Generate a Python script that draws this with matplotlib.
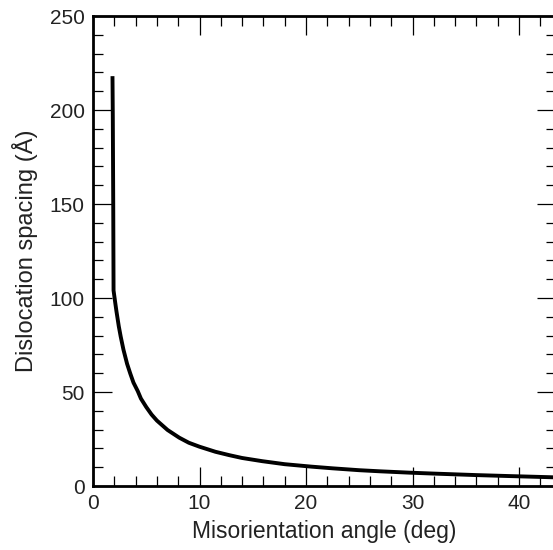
import matplotlib
matplotlib.use("Agg")
import matplotlib.pyplot as plt
from matplotlib.ticker import MultipleLocator

# values
angle_deg = [1.83, 1.86, 1.90, 1.93, 2.1, 2.2, 2.42, 2.6, 2.86, 3.2, 3.5, 3.8,
             4.2, 4.5, 5.0, 5.5, 6.0, 7.0, 8.1, 9.0, 10.0, 11.5, 12.8, 14.0,
             15.9, 18.0, 20.5, 22.5, 25.0, 27.0, 29.7, 32.0, 36.0, 39.0, 43.4]
spacing_A = [218, 196, 150, 104, 97, 93, 85, 79.5, 72.5, 65, 59.8, 55,
             50.5, 46.5, 42, 38, 34.8, 29.8, 25.7, 23, 20.9, 18.2, 16.4, 14.9,
             13.2, 11.6, 10.3, 9.4, 8.4, 7.8, 7.1, 6.6, 5.8, 5.3, 4.6]

x_major, x_minor = 10, 2
y_major, y_minor = 50, 10

plt.rcParams.update({
    "font.family": ["Liberation Sans", "DejaVu Sans"],
    "font.size": 16.5,
})

W, H = 553, 550
fig = plt.figure(figsize=(W / 100, H / 100), dpi=100)
ax = fig.add_axes([93 / W, 1 - 486 / H, (556 - 93) / W, (486 - 16) / H])

ax.plot(angle_deg, spacing_A, color="black", lw=2.8, solid_capstyle="butt")

ax.set_xlim(0, (556 - 93) / 10.65)
ax.set_ylim(0, 250)
ax.xaxis.set_major_locator(MultipleLocator(x_major))
ax.xaxis.set_minor_locator(MultipleLocator(x_minor))
ax.yaxis.set_major_locator(MultipleLocator(y_major))
ax.yaxis.set_minor_locator(MultipleLocator(y_minor))

ax.tick_params(which="both", direction="in", top=True, right=True,
               colors="black", labelcolor="#222222", labelsize=15)
ax.tick_params(which="major", length=13.5, width=0.9)
ax.tick_params(axis="x", which="major", pad=6)
ax.tick_params(axis="y", which="major", pad=6)
ax.tick_params(which="minor", length=7, width=0.9)
for s in ax.spines.values():
    s.set_linewidth(2.0)

ax.set_xlabel("Misorientation angle (deg)", color="#222222", labelpad=5)
ax.set_ylabel("Dislocation spacing (Å)", color="#222222", fontsize=17, labelpad=8)

fig.savefig("out.png", dpi=100)
